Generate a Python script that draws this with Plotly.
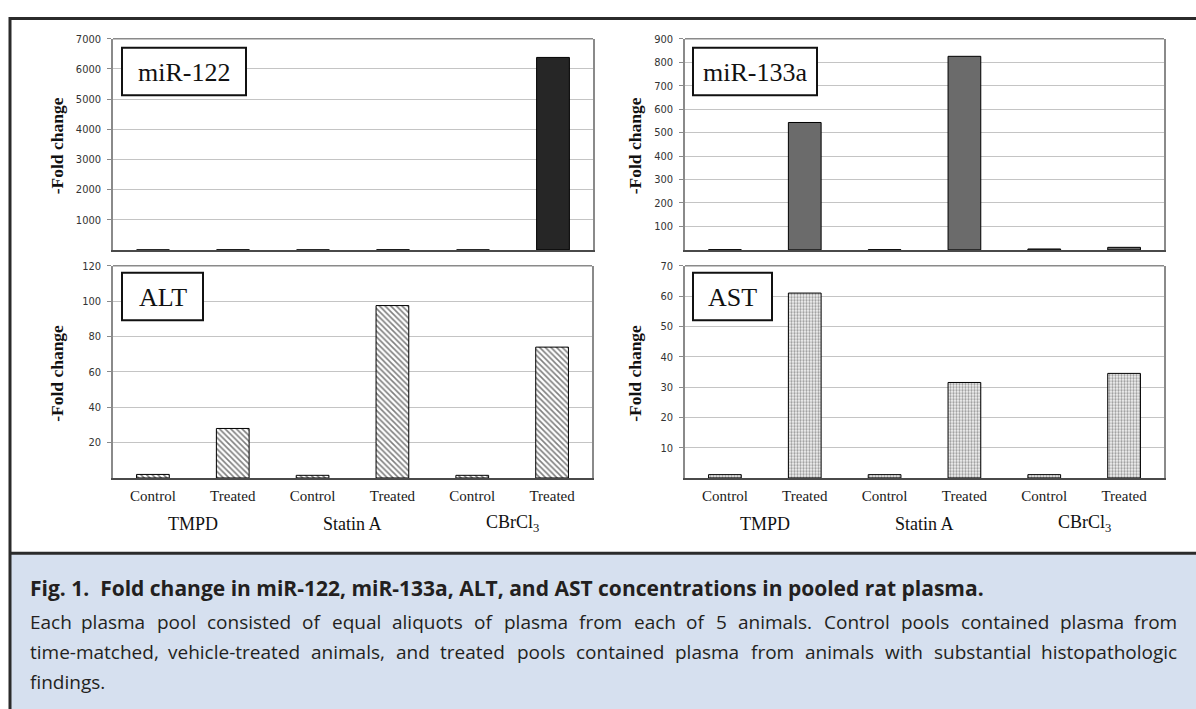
import plotly.graph_objects as go

# ---------------- data ----------------
groups = ["TMPD", "Statin A", "CBrCl<sub>3</sub>"]
conditions = ["Control", "Treated", "Control", "Treated", "Control", "Treated"]
mir122 = [1, 2, 1, 3, 1, 6380]
mir133a = [1, 543, 1, 825, 4, 11]
alt = [2, 28, 1.5, 97.5, 1.5, 74]
ast = [1.1, 61, 1.1, 31.5, 1.1, 34.5]

panel_names = ["miR-122", "miR-133a", "ALT", "AST"]
y_ticks_122 = [1000, 2000, 3000, 4000, 5000, 6000, 7000]
y_ticks_133a = [100, 200, 300, 400, 500, 600, 700, 800, 900]
y_ticks_alt = [20, 40, 60, 80, 100, 120]
y_ticks_ast = [10, 20, 30, 40, 50, 60, 70]
y_max = [7000, 900, 120, 70]

title_text = "Fig. 1.  Fold change in miR-122, miR-133a, ALT, and AST concentrations in pooled rat plasma."
body_lines = [
    "Each plasma pool consisted of equal aliquots of plasma from each of 5 animals. Control pools contained plasma from",
    "time-matched, vehicle-treated animals, and treated pools contained plasma from animals with substantial histopathologic",
    "findings.",
]
body_justified = [True, True, False]

W, H = 1196, 709
def px(x):
    return x / W
def py(y):
    return 1 - y / H

xpos = list(range(len(conditions)))

SERIF = "Liberation Serif, Times New Roman, serif"
NARROW = "Liberation Sans Narrow, Arial Narrow, DejaVu Sans Condensed, sans-serif"
CAP = "Open Sans, Noto Sans, sans-serif"

fig = go.Figure()

geom = [
    (113, 593, 33, 246),
    (685, 1164, 33, 246),
    (113, 592, 262, 476),
    (685, 1164, 262, 476),
]
series = [mir122, mir133a, alt, ast]
ticks = [y_ticks_122, y_ticks_133a, y_ticks_alt, y_ticks_ast]
markers = [
    dict(color="#262626", line=dict(color="#000000", width=1)),
    dict(color="#6b6b6b", line=dict(color="#000000", width=1)),
    dict(color="white", line=dict(color="#000000", width=1),
         pattern=dict(shape="\\", fgcolor="#000000", bgcolor="white", size=4, solidity=0.4)),
    dict(color="white", line=dict(color="#000000", width=1),
         pattern=dict(shape=".", fgcolor="#404040", bgcolor="#f4f4f4", size=3, solidity=0.45)),
]

for i in range(4):
    n = "" if i == 0 else str(i + 1)
    fig.add_trace(go.Bar(x=xpos, y=series[i], width=0.41, marker=markers[i],
                         xaxis="x" + n, yaxis="y" + n, showlegend=False))
    x0, x1, yt, yb = geom[i]
    bottom = i >= 2
    fig.layout["xaxis" + n] = dict(
        domain=[px(x0), px(x1)], range=[-0.5, 5.5], anchor="y" + n,
        showline=True, linecolor="#4a4a4a", linewidth=1.5, mirror=False,
        showgrid=False, zeroline=False, ticks="",
        tickmode="array", tickvals=xpos, ticktext=conditions,
        showticklabels=bottom, ticklabelstandoff=3,
        tickfont=dict(family=SERIF, size=15, color="#1a1a1a"),
    )
    fig.layout["yaxis" + n] = dict(
        domain=[py(yb), py(yt)], range=[0, y_max[i]], anchor="x" + n,
        showline=True, linecolor="#8a8a8a", linewidth=1.5, mirror=True,
        showgrid=True, gridcolor="#c4c4c4", gridwidth=1, zeroline=False,
        tickmode="array", tickvals=ticks[i], ticks="outside", ticklen=4,
        tickcolor="#8a8a8a", ticklabelstandoff=4,
        tickfont=dict(family=NARROW, size=11, color="#333333"),
    )
    fig.add_shape(type="line", xref="x" + n + " domain", yref="y" + n + " domain",
                  x0=0, x1=1, y0=1, y1=1, line=dict(color="#8a8a8a", width=1.5))
    tx = 57 if i % 2 == 0 else 635
    fig.add_annotation(text="-Fold change", x=px(tx), y=py((yt + yb) / 2 + 2), xref="paper", yref="paper",
                       textangle=-90, showarrow=False, xanchor="center", yanchor="middle",
                       font=dict(family=SERIF, size=17.5, color="#111111", weight="bold"))

boxes = [(122, 246, 42, 90), (693, 817, 42, 90), (122, 203, 269, 317), (693, 772, 269, 317)]
for (bx0, bx1, by0, by1), name in zip(boxes, panel_names):
    fig.add_shape(type="rect", xref="paper", yref="paper", x0=px(bx0), x1=px(bx1),
                  y0=py(by1), y1=py(by0), line=dict(color="#111111", width=2), fillcolor="white")
    fig.add_annotation(text=name, x=px((bx0 + bx1) / 2), y=py((by0 + by1) / 2 + 1), xref="paper", yref="paper",
                       showarrow=False, xanchor="center", yanchor="middle",
                       font=dict(family=SERIF, size=26, color="#111111"))

for axn in ["x3", "x4"]:
    for g, gname in enumerate(groups):
        fig.add_annotation(text=gname, x=(xpos[2 * g] + xpos[2 * g + 1]) / 2, y=py(522), xref=axn, yref="paper",
                           showarrow=False, xanchor="center", yanchor="middle",
                           font=dict(family=SERIF, size=18, color="#111111"))

FR = "#2b2b2b"
fig.add_shape(type="rect", xref="paper", yref="paper", x0=px(10), x1=1.01, y0=-0.01, y1=py(552),
              line=dict(width=0), fillcolor="#d6e0ef", layer="below")
fig.add_shape(type="line", xref="paper", yref="paper", x0=px(10), x1=1.01, y0=py(12.5), y1=py(12.5),
              line=dict(color=FR, width=3))
fig.add_shape(type="line", xref="paper", yref="paper", x0=px(10), x1=1.01, y0=py(552), y1=py(552),
              line=dict(color=FR, width=3))
fig.add_shape(type="line", xref="paper", yref="paper", x0=px(10), x1=px(10), y0=-0.01, y1=py(11),
              line=dict(color=FR, width=3))

# ---- caption ----
CAP_SIZE = 19
CW = {' ': .26, 'a': .556, 'b': .613, 'c': .476, 'd': .613, 'e': .561, 'f': .339, 'g': .548, 'h': .614,
      'i': .253, 'j': .253, 'k': .525, 'l': .253, 'm': .930, 'n': .614, 'o': .604, 'p': .613, 'q': .613,
      'r': .408, 's': .477, 't': .353, 'u': .614, 'v': .501, 'w': .778, 'x': .524, 'y': .502, 'z': .477,
      'C': .635, 'E': .55, 'T': .552, '.': .266, ',': .244, '-': .322}
def est_width(word, size):
    return sum(CW.get(ch, .572) for ch in word) * size

fig.add_annotation(text="<b>" + title_text + "</b>", x=px(28), y=py(587), xref="paper", yref="paper",
                   showarrow=False, xanchor="left", yanchor="middle",
                   font=dict(family=CAP, size=21, color="#231f20"))

X_START, X_END = 28, 1179
for k, (line, just) in enumerate(zip(body_lines, body_justified)):
    yy = py(621 + 30.5 * k)
    if not just:
        fig.add_annotation(text=line, x=px(X_START), y=yy, xref="paper", yref="paper",
                           showarrow=False, xanchor="left", yanchor="middle",
                           font=dict(family=CAP, size=CAP_SIZE, color="#231f20"))
        continue
    words = line.split(" ")
    ws = [est_width(w, CAP_SIZE) for w in words]
    gap = (X_END - X_START - sum(ws)) / (len(words) - 1)
    pos = X_START
    for j, (w, wd) in enumerate(zip(words, ws)):
        if j == 0:
            xa, xx = "left", X_START
        elif j == len(words) - 1:
            xa, xx = "right", X_END
        else:
            xa, xx = "center", pos + wd / 2
        fig.add_annotation(text=w, x=px(xx), y=yy, xref="paper", yref="paper",
                           showarrow=False, xanchor=xa, yanchor="middle",
                           font=dict(family=CAP, size=CAP_SIZE, color="#231f20"))
        pos += wd + gap

fig.update_layout(width=W, height=H, margin=dict(l=0, r=0, t=0, b=0),
                  paper_bgcolor="white", plot_bgcolor="white", bargap=0.5)

fig.write_html("out.html", config={"displayModeBar": False},
               post_script="document.body.style.margin='0px';document.body.style.overflow='hidden';")
